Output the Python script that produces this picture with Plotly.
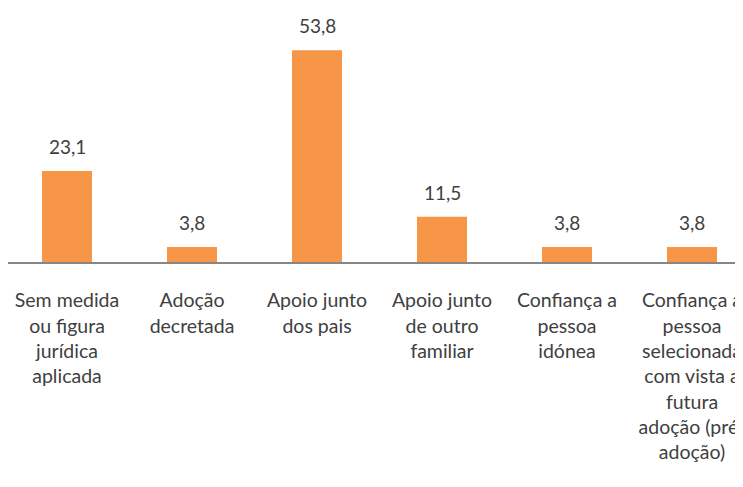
import plotly.graph_objects as go

# categorias e valores (%)
categories = [
    "Sem medida<br>ou figura<br>jurídica<br>aplicada",
    "Adoção<br>decretada",
    "Apoio junto<br>dos pais",
    "Apoio junto<br>de outro<br>familiar",
    "Confiança a<br>pessoa<br>idónea",
    "Confiança a<br>pessoa<br>selecionada<br>com vista a<br>futura<br>adoção (pré-<br>adoção)",
]
values = [23.1, 3.8, 53.8, 11.5, 3.8, 3.8]
value_labels = [f"{v:.1f}".replace(".", ",") for v in values]
xpos = list(range(len(categories)))

fig = go.Figure(
    go.Bar(
        x=xpos,
        y=values,
        marker=dict(color="#F79646", line=dict(width=0)),
        width=0.4,
        cliponaxis=False,
        hoverinfo="skip",
    )
)

# rótulos de dados acima das barras
for x, v, lab in zip(xpos, values, value_labels):
    fig.add_annotation(
        x=x, y=v, text=lab, showarrow=False, yanchor="bottom", yshift=11,
        font=dict(size=19, color="#404040"),
    )

fig.update_layout(
    width=743,
    height=487,
    margin=dict(l=0, r=0, t=0, b=233),
    plot_bgcolor="white",
    paper_bgcolor="white",
    font=dict(family="Lato, Open Sans, sans-serif", color="#404040"),
    showlegend=False,
    xaxis=dict(
        tickmode="array",
        tickvals=xpos,
        ticktext=categories,
        range=[-0.472, 5.472],
        automargin=False,
        showline=True,
        linecolor="#868686",
        linewidth=1.5,
        showgrid=False,
        zeroline=False,
        ticks="",
        tickangle=0,
        tickfont=dict(size=19.5, color="#404040"),
        ticklabelstandoff=20,
        ticklabeloverflow="allow",
    ),
    yaxis=dict(range=[0, 64.5], visible=False, automargin=False),
)

fig.write_html("out.html")
